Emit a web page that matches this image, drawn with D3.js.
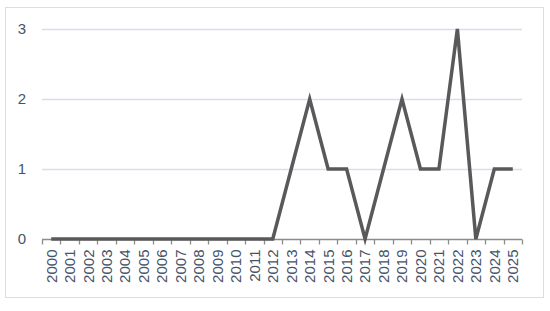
<!DOCTYPE html>
<html>
<head>
<meta charset="utf-8">
<script src="https://cdn.jsdelivr.net/npm/d3@7"></script>
<style>
  body { margin: 0; background: #fff; }
  svg { display: block; font-family: "Liberation Sans", Arial, sans-serif; }
</style>
</head>
<body>
<div id="wrapper"></div>
<script>
const years = ["2000","2001","2002","2003","2004","2005","2006","2007","2008","2009",
  "2010","2011","2012","2013","2014","2015","2016","2017","2018","2019",
  "2020","2021","2022","2023","2024","2025"];
const counts = [0,0,0,0,0,0,0,0,0,0,0,0,0,1,2,1,1,0,1,2,1,1,3,0,1,1];
const yTicks = [0, 1, 2, 3];

const width = 550, height = 311;
const margin = { left: 42, right: 28, top: 29, bottom: 72 };

const svg = d3.select("#wrapper").append("svg")
  .attr("width", width).attr("height", height);

// chart border
svg.append("rect")
  .attr("x", 5.5).attr("y", 7.5)
  .attr("width", 538).attr("height", 290)
  .attr("fill", "#fff")
  .attr("stroke", "#d9dee5");

const x = d3.scaleBand()
  .domain(years)
  .range([margin.left, width - margin.right]);

const y = d3.scaleLinear()
  .domain([0, 3])
  .range([height - margin.bottom, margin.top]);

// gridlines
svg.append("g")
  .selectAll("line")
  .data(yTicks.filter(d => d > 0))
  .join("line")
  .attr("x1", margin.left).attr("x2", width - margin.right)
  .attr("y1", d => Math.round(y(d)) + 0.5).attr("y2", d => Math.round(y(d)) + 0.5)
  .attr("stroke", "#d6e0ea")
  .attr("stroke-width", 1.5);

// y labels
svg.append("g")
  .selectAll("text")
  .data(yTicks)
  .join("text")
  .attr("x", 22)
  .attr("y", d => y(d))
  .attr("dy", "0.36em")
  .attr("text-anchor", "middle")
  .attr("fill", "#44546a")
  .style("font-size", "15px")
  .text(d => d);

// x axis (ticks between categories)
const baseY = Math.round(y(0)) + 0.5;
const axis = svg.append("g");
axis.append("line")
  .attr("x1", margin.left).attr("x2", width - margin.right)
  .attr("y1", baseY).attr("y2", baseY)
  .attr("stroke", "#8c8c8c").attr("stroke-width", 1.3);
const bounds = years.map(d => x(d)).concat([x(years[years.length - 1]) + x.bandwidth()]);
axis.selectAll("line.tick")
  .data(bounds)
  .join("line")
  .attr("class", "tick")
  .attr("x1", d => Math.round(d) + 0.5).attr("x2", d => Math.round(d) + 0.5)
  .attr("y1", baseY).attr("y2", baseY + 5)
  .attr("stroke", "#8c8c8c").attr("stroke-width", 1.3);

axis.selectAll("text")
  .data(years)
  .join("text")
  .attr("transform", d => `translate(${x(d) + x.bandwidth() / 2},${baseY + 10}) rotate(-90)`)
  .attr("text-anchor", "end")
  .attr("dy", "0.36em")
  .attr("fill", "#44546a")
  .style("font-size", "15px")
  .text(d => d);

// line
const line = d3.line()
  .x((d, i) => x(years[i]) + x.bandwidth() / 2)
  .y(d => y(d));

svg.append("path")
  .attr("d", line(counts))
  .attr("fill", "none")
  .attr("stroke", "#595959")
  .attr("stroke-width", 3.5);
</script>
</body>
</html>
